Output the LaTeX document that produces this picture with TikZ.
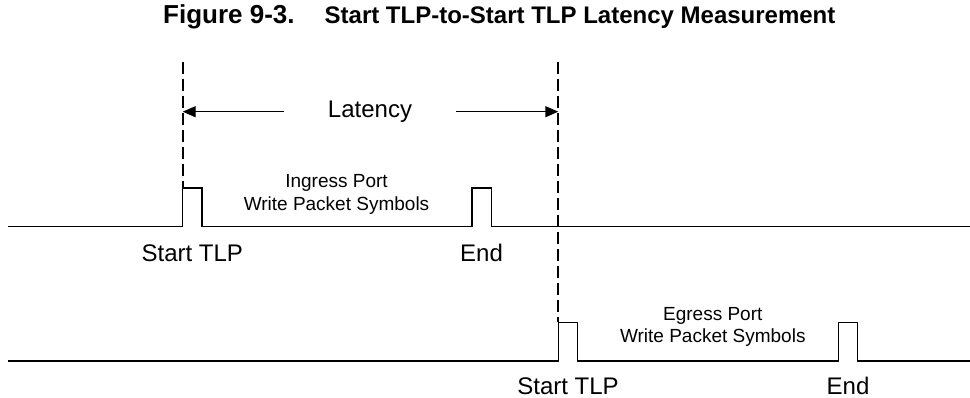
\documentclass[tikz,border=0pt]{standalone}
\usepackage{fontspec}
\setmainfont{Liberation Sans}
\usetikzlibrary{arrows.meta}
\definecolor{myblack}{RGB}{0,0,0}
\newcommand*{\mylabelstyle}{\fontsize{24}{28}\selectfont\color{myblack}}
\newcommand*{\mysmallstyle}{\fontsize{19}{22.5}\selectfont\color{myblack}}
\newcommand*{\mytitlestyle}{\bfseries\color{myblack}}
\newcommand{\signal}[3]{%
   % baseline y, first pulse x, second pulse x
   \pgfmathsetmacro{\ybase}{#1}
   \pgfmathsetmacro{\ytop}{#1-38.7}
   \pgfmathsetmacro{\pa}{#2}
   \pgfmathsetmacro{\pb}{#3}
   \pgfmathsetmacro{\pw}{19.3}
   \draw[signal line] (8,\ybase)
      -- (\pa,\ybase) -- (\pa,\ytop) -- (\pa+\pw,\ytop) -- (\pa+\pw,\ybase)
      -- (\pb,\ybase) -- (\pb,\ytop) -- (\pb+\pw,\ytop) -- (\pb+\pw,\ybase)
      -- (970,\ybase);
}
\tikzset{
   signal line/.style  = {myblack, line width = 1.4pt},
   marker line/.style  = {myblack, line width = 2.2pt,
                          dash pattern = on 12pt off 5pt},
   latency arrow/.style = {myblack, line width = 1.4pt,
                          -{Triangle[length = 13pt, width = 11pt]}},
   big label/.style    = {font = \mylabelstyle, inner sep = 0pt, anchor = base},
   small label/.style  = {font = \mysmallstyle, inner sep = 0pt,
                          anchor = north, align = center}
}

\begin{document}
\begin{tikzpicture}[x = 1pt, y = -1pt]
   \useasboundingbox (0,0) rectangle (970,398);

   % title
   \node[font = \mytitlestyle, inner sep = 0pt, anchor = base west] (title) at (163,24)
      {{\fontsize{26}{30}\selectfont Figure 9-3.}\hspace{30pt}%
       {\fontsize{24}{28}\selectfont Start TLP-to-Start TLP Latency Measurement}};

   % ingress and egress waveforms
   \signal{226.7}{182.7}{471.9}
   \signal{361.0}{558.3}{838.3}

   % start markers
   \coordinate (mkA) at (182.7,62);
   \coordinate (mkB) at (558.3,62);
   \coordinate (ingTop) at (182.7,188);
   \coordinate (egrTop) at (558.3,322.3);
   \draw[marker line] (mkA) -- (ingTop);
   \draw[marker line] (mkB) -- (egrTop);

   % latency
   \coordinate (tipA) at (182.7,111.7);
   \coordinate (tipB) at (558.3,111.7);
   \node[font = \mylabelstyle, inner ysep = 0pt, inner xsep = 44pt] (latency) at (370,111.7) {Latency};
   \draw[latency arrow] (latency.west) -- (tipA);
   \draw[latency arrow] (latency.east) -- (tipB);

   \node[small label] (ingress) at (336.5,174.7) {Ingress Port\\Write Packet Symbols};
   \node[small label] (egress)  at (712.8,307.1) {Egress Port\\Write Packet Symbols};

   \node[big label] (startA) at (192.3,261.7) {Start TLP};
   \node[big label] (endA)   at (481.5,261.7) {End};
   \node[big label] (startB) at (568.0,394.5) {Start TLP};
   \node[big label] (endB)   at (848.0,394.5) {End};

\end{tikzpicture}
\end{document}
